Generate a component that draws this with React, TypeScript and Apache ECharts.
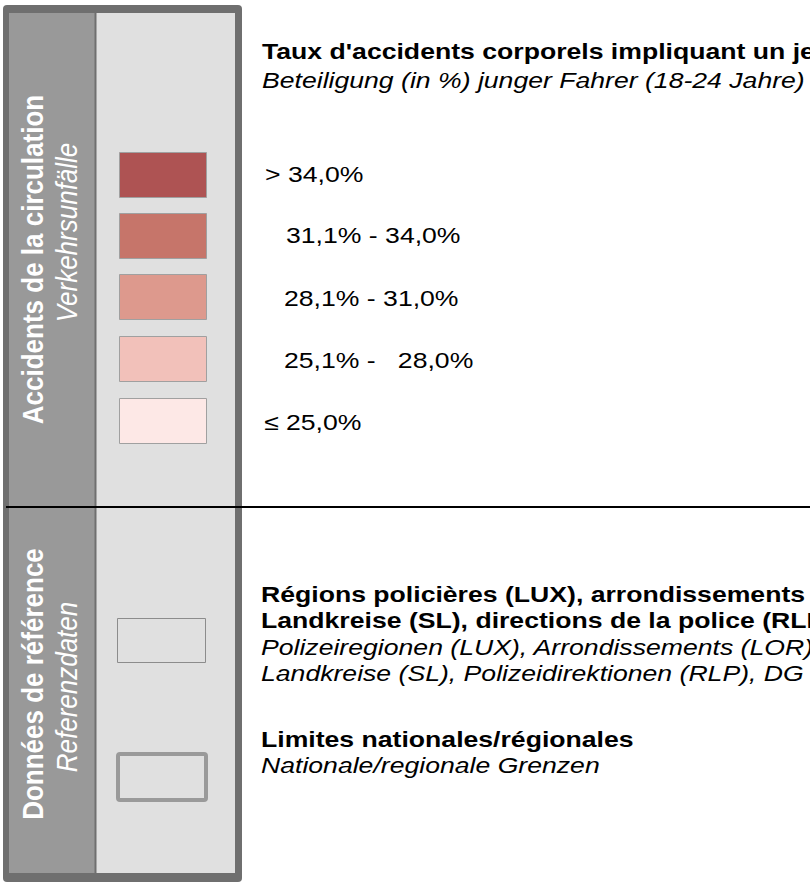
import React, { useEffect, useRef } from 'react';
import * as echarts from 'echarts';

// ---- data ----
const title = "Taux d'accidents corporels impliquant un jeune conducteur (18-24 ans)";
const subtitle = 'Beteiligung (in %) junger Fahrer (18-24 Jahre)';
const classLabels = ['> 34,0%', '31,1% - 34,0%', '28,1% - 31,0%', '25,1% -   28,0%', '≤ 25,0%'];
const classColors = ['#AE5353', '#C6756A', '#DD998D', '#F2C1BA', '#FDE8E6'];
const sectionTitles = ['Accidents de la circulation', 'Données de référence'];
const sectionSubtitles = ['Verkehrsunfälle', 'Referenzdaten'];
const refLines1 = [
  'Régions policières (LUX), arrondissements (LOR),',
  'Landkreise (SL), directions de la police (RLP), DG',
  'Polizeiregionen (LUX), Arrondissements (LOR),',
  'Landkreise (SL), Polizeidirektionen (RLP), DG',
];
const refLines2 = ['Limites nationales/régionales', 'Nationale/regionale Grenzen'];

// ---- layout ----
const FONT = 'Liberation Sans, Arial, Helvetica, sans-serif';
const SX = 1.21;
const labelX = [265, 286, 284, 284, 264];
const labelY = [174, 235, 298, 360, 422];
const swatchY = [152, 213, 274, 336, 398];

function hText(text: string, x: number, y: number, weight: string, style: string, size = 22) {
  return {
    type: 'text',
    x,
    y,
    scaleX: SX,
    originX: 0,
    originY: 0,
    style: {
      text,
      x: 0,
      y: 0,
      fill: '#000000',
      fontFamily: FONT,
      fontSize: size,
      fontWeight: weight,
      fontStyle: style,
      align: 'left',
      verticalAlign: 'middle',
      textAlign: 'left',
      textVerticalAlign: 'middle',
    },
  };
}

function vText(text: string, x: number, y: number, weight: string, style: string) {
  return {
    type: 'text',
    x,
    y,
    rotation: Math.PI / 2,
    scaleY: 1.12,
    originX: 0,
    originY: 0,
    style: {
      text,
      x: 0,
      y: 0,
      fill: '#ffffff',
      fontFamily: FONT,
      fontSize: 26,
      fontWeight: weight,
      fontStyle: style,
      align: 'center',
      verticalAlign: 'middle',
      textAlign: 'center',
      textVerticalAlign: 'middle',
    },
  };
}

export default function App() {
  const ref = useRef<HTMLDivElement>(null);
  useEffect(() => {
    document.body.style.margin = '0';
    document.body.style.overflow = 'hidden';
    const chart = echarts.init(ref.current!, null, { renderer: 'svg' });
    const elements: any[] = [];
    // frame
    elements.push({ type: 'rect', shape: { x: 3, y: 5, width: 239, height: 877, r: 4 }, style: { fill: '#6f6f6f' } });
    elements.push({ type: 'rect', shape: { x: 9, y: 13, width: 85.5, height: 860 }, style: { fill: '#999999' } });
    elements.push({ type: 'rect', shape: { x: 96.5, y: 13, width: 138.5, height: 860 }, style: { fill: '#e0e0e0' } });
    // separator
    elements.push({ type: 'line', shape: { x1: 6, y1: 507, x2: 810, y2: 507 }, style: { stroke: '#000000', lineWidth: 2 } });
    // section titles
    elements.push(vText(sectionTitles[0], 33, 259.5, 'bold', 'normal'));
    elements.push(vText(sectionSubtitles[0], 67, 232.5, 'normal', 'italic'));
    elements.push(vText(sectionTitles[1], 33, 684, 'bold', 'normal'));
    elements.push(vText(sectionSubtitles[1], 67, 687, 'normal', 'italic'));
    // title
    elements.push(hText(title, 262, 51, 'bold', 'normal'));
    elements.push(hText(subtitle, 262, 80, 'normal', 'italic'));
    // classes
    classLabels.forEach((lab, i) => {
      elements.push({
        type: 'rect',
        shape: { x: 119.5, y: swatchY[i] + 0.5, width: 87, height: 45 },
        style: { fill: classColors[i], stroke: '#a0a0a0', lineWidth: 1 },
      });
      elements.push(hText(lab, labelX[i], labelY[i], 'normal', 'normal'));
    });
    // reference data
    elements.push({ type: 'rect', shape: { x: 117.5, y: 618.5, width: 88, height: 44 }, style: { fill: '#e0e0e0', stroke: '#8c8c8c', lineWidth: 1 } });
    elements.push({ type: 'rect', shape: { x: 118, y: 754, width: 88, height: 46, r: 2 }, style: { fill: '#e0e0e0', stroke: '#9a9a9a', lineWidth: 4 } });
    refLines1.forEach((t, i) => {
      elements.push(hText(t, 261, 594 + i * 26.5, i < 2 ? 'bold' : 'normal', i < 2 ? 'normal' : 'italic'));
    });
    refLines2.forEach((t, i) => {
      elements.push(hText(t, 261, 739 + i * 26, i < 1 ? 'bold' : 'normal', i < 1 ? 'normal' : 'italic'));
    });
    chart.setOption({ animation: false, graphic: { elements } });
    return () => chart.dispose();
  }, []);
  return <div ref={ref} style={{ width: 810, height: 888 }} />;
}
